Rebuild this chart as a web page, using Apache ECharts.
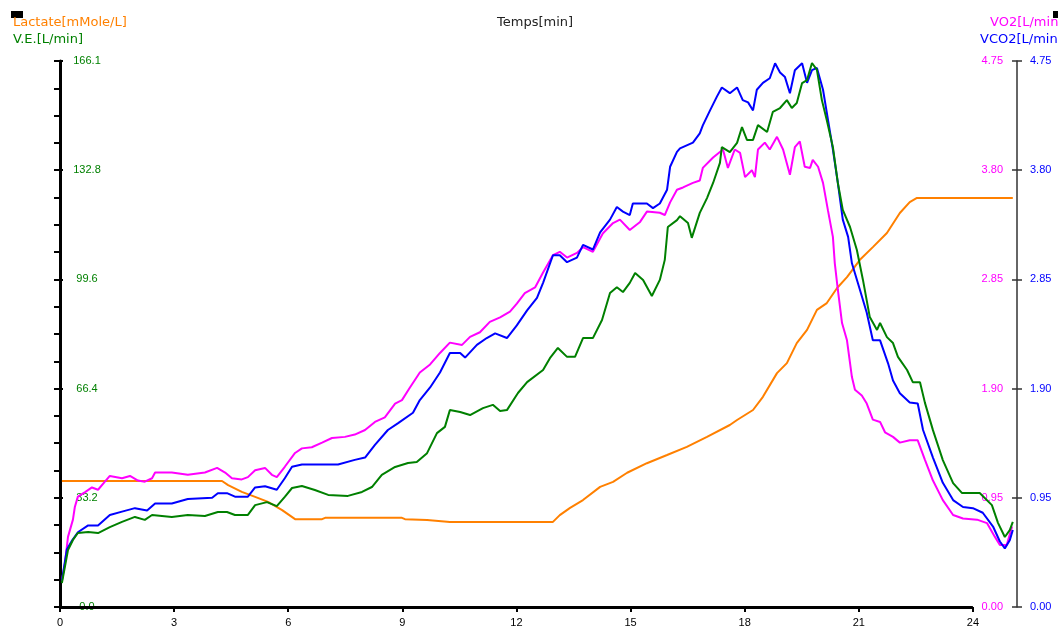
<!DOCTYPE html>
<html>
<head>
<meta charset="utf-8">
<script src="https://cdn.jsdelivr.net/npm/echarts@6/dist/echarts.min.js"></script>
<style>
  html, body { margin: 0; padding: 0; background: #fff; }
  #chart { width: 1058px; height: 632px; }
</style>
</head>
<body>
<div id="chart"></div>
<script>
// Time axis (minutes) and tick positions
const xTicks = [0, 3, 6, 9, 12, 15, 18, 21, 24];
const timeMax = 25.16;

// Scales: ventilation on the left, gas exchange on the right
const veMax = 166.1;
const veStep = 33.22;
const gasMax = 4.75;
const gasStep = 0.95;
const lactateMax = 12;

// Lactate [mMole/L] : [minute, value]
const lactate = [
  [0.05, 2.77], [4.26, 2.77], [4.42, 2.68], [4.78, 2.53], [5.13, 2.42], [5.47, 2.31],
  [5.84, 2.13], [6.18, 1.93], [6.89, 1.93], [6.97, 1.96], [8.99, 1.96], [9.07, 1.93],
  [9.65, 1.91], [10.25, 1.87], [12.96, 1.87], [13.14, 2.02], [13.41, 2.18], [13.75, 2.35],
  [14.20, 2.64], [14.54, 2.75], [14.91, 2.95], [15.43, 3.16], [15.96, 3.34], [16.48, 3.52],
  [17.01, 3.74], [17.61, 4.00], [17.80, 4.11], [18.22, 4.33], [18.48, 4.62], [18.85, 5.14],
  [19.11, 5.36], [19.37, 5.80], [19.64, 6.09], [19.90, 6.53], [20.16, 6.68], [20.43, 7.01],
  [20.69, 7.25], [21.03, 7.63], [21.37, 7.91], [21.74, 8.22], [22.08, 8.66], [22.34, 8.90],
  [22.53, 8.99], [25.05, 8.99]
];

// V.E. [L/min]
const ve = [
  [0.05, 7.3], [0.21, 17.3], [0.34, 20.4], [0.47, 22.5], [0.74, 22.8], [1.00, 22.5],
  [1.31, 24.3], [1.63, 25.9], [1.97, 27.4], [2.23, 26.5], [2.42, 28.0], [2.94, 27.4],
  [3.36, 28.0], [3.81, 27.7], [4.15, 28.9], [4.39, 28.9], [4.60, 28.0], [4.94, 28.0],
  [5.13, 31.0], [5.44, 31.9], [5.70, 30.7], [5.91, 33.5], [6.10, 36.2], [6.36, 36.8],
  [6.70, 35.6], [7.05, 34.1], [7.57, 33.8], [7.94, 35.0], [8.20, 36.5], [8.46, 40.2],
  [8.81, 42.6], [9.15, 43.8], [9.38, 44.1], [9.65, 46.8], [9.91, 52.9], [10.12, 54.8],
  [10.25, 59.9], [10.52, 59.3], [10.78, 58.4], [11.12, 60.5], [11.38, 61.5], [11.57, 59.6],
  [11.75, 59.9], [12.04, 65.1], [12.28, 68.4], [12.70, 72.1], [12.88, 75.7], [13.09, 78.8],
  [13.33, 76.1], [13.54, 76.1], [13.75, 81.8], [14.01, 81.8], [14.25, 87.3], [14.46, 95.5],
  [14.64, 97.3], [14.80, 95.8], [14.98, 98.6], [15.12, 101.6], [15.33, 99.5], [15.56, 94.6],
  [15.77, 99.5], [15.90, 105.6], [15.98, 115.6], [16.22, 117.7], [16.30, 118.9], [16.51, 116.8],
  [16.61, 112.3], [16.82, 119.9], [17.01, 124.4], [17.17, 129.0], [17.35, 135.1], [17.40, 139.9],
  [17.61, 138.4], [17.80, 141.2], [17.93, 146.0], [18.06, 142.1], [18.22, 142.1], [18.35, 146.6],
  [18.59, 144.5], [18.74, 150.6], [18.93, 151.8], [19.11, 154.2], [19.24, 151.8], [19.37, 153.3],
  [19.51, 159.4], [19.64, 160.3], [19.77, 165.5], [19.90, 163.4], [20.03, 154.2], [20.16, 148.1],
  [20.32, 139.9], [20.45, 129.0], [20.58, 120.8], [20.77, 115.6], [20.95, 108.6], [21.11, 99.5],
  [21.29, 88.2], [21.48, 84.3], [21.56, 86.4], [21.74, 82.1], [21.90, 80.3], [22.03, 76.1],
  [22.27, 72.1], [22.42, 68.4], [22.61, 68.4], [22.74, 62.1], [22.95, 53.8], [23.21, 44.7],
  [23.48, 37.7], [23.71, 34.7], [24.18, 34.7], [24.50, 31.0], [24.66, 25.6], [24.84, 21.3],
  [24.97, 23.4], [25.05, 25.9]
];

// VO2 [L/min]
const vo2 = [
  [0.05, 0.23], [0.13, 0.38], [0.21, 0.61], [0.34, 0.76], [0.39, 0.87], [0.47, 0.96],
  [0.66, 1.00], [0.84, 1.04], [1.00, 1.02], [1.18, 1.09], [1.31, 1.14], [1.63, 1.12],
  [1.84, 1.14], [2.05, 1.10], [2.23, 1.09], [2.42, 1.12], [2.50, 1.17], [2.94, 1.17],
  [3.36, 1.15], [3.81, 1.17], [4.13, 1.21], [4.34, 1.17], [4.52, 1.12], [4.78, 1.11],
  [4.94, 1.13], [5.13, 1.19], [5.39, 1.21], [5.57, 1.15], [5.70, 1.13], [5.91, 1.22],
  [6.18, 1.34], [6.36, 1.38], [6.62, 1.39], [6.89, 1.43], [7.15, 1.47], [7.49, 1.48],
  [7.75, 1.50], [8.02, 1.54], [8.28, 1.61], [8.54, 1.65], [8.81, 1.77], [8.99, 1.80],
  [9.20, 1.91], [9.46, 2.04], [9.73, 2.11], [9.99, 2.21], [10.25, 2.30], [10.57, 2.28],
  [10.78, 2.35], [11.04, 2.39], [11.30, 2.48], [11.57, 2.52], [11.83, 2.57], [12.01, 2.64],
  [12.22, 2.73], [12.49, 2.78], [12.70, 2.91], [12.96, 3.06], [13.14, 3.09], [13.33, 3.04],
  [13.59, 3.08], [13.75, 3.13], [14.01, 3.09], [14.27, 3.25], [14.54, 3.34], [14.72, 3.37],
  [14.98, 3.28], [15.25, 3.35], [15.43, 3.44], [15.77, 3.43], [15.90, 3.41], [16.04, 3.52],
  [16.22, 3.63], [16.38, 3.65], [16.64, 3.69], [16.82, 3.71], [16.90, 3.82], [17.17, 3.91],
  [17.43, 3.98], [17.56, 3.82], [17.74, 3.98], [17.88, 3.95], [18.01, 3.74], [18.19, 3.80],
  [18.27, 3.74], [18.35, 3.98], [18.53, 4.04], [18.66, 3.98], [18.85, 4.09], [19.01, 3.98],
  [19.19, 3.76], [19.32, 4.00], [19.45, 4.05], [19.58, 3.83], [19.72, 3.82], [19.79, 3.89],
  [19.93, 3.83], [20.06, 3.69], [20.19, 3.45], [20.32, 3.22], [20.37, 2.99], [20.45, 2.76],
  [20.56, 2.47], [20.69, 2.32], [20.82, 2.00], [20.90, 1.89], [21.08, 1.84], [21.21, 1.77],
  [21.37, 1.63], [21.56, 1.61], [21.69, 1.52], [21.90, 1.48], [22.08, 1.43], [22.34, 1.45],
  [22.55, 1.45], [22.74, 1.28], [22.95, 1.10], [23.21, 0.93], [23.48, 0.80], [23.74, 0.77],
  [24.11, 0.76], [24.37, 0.73], [24.58, 0.61], [24.71, 0.54], [24.89, 0.54], [25.03, 0.70]
];

// VCO2 [L/min]
const vco2 = [
  [0.05, 0.23], [0.18, 0.50], [0.32, 0.58], [0.47, 0.65], [0.74, 0.71], [1.00, 0.71],
  [1.31, 0.80], [1.63, 0.83], [1.97, 0.86], [2.29, 0.84], [2.50, 0.90], [2.94, 0.90],
  [3.36, 0.94], [4.00, 0.95], [4.15, 0.99], [4.39, 0.99], [4.60, 0.96], [4.94, 0.96],
  [5.13, 1.04], [5.39, 1.05], [5.70, 1.02], [5.91, 1.12], [6.10, 1.22], [6.36, 1.24],
  [6.89, 1.24], [7.31, 1.24], [7.75, 1.28], [8.02, 1.30], [8.28, 1.41], [8.62, 1.54],
  [8.89, 1.60], [9.28, 1.69], [9.46, 1.80], [9.73, 1.91], [9.99, 2.04], [10.25, 2.21],
  [10.52, 2.21], [10.65, 2.17], [10.96, 2.28], [11.22, 2.34], [11.44, 2.38], [11.75, 2.34],
  [12.01, 2.45], [12.28, 2.58], [12.54, 2.69], [12.70, 2.82], [12.96, 3.06], [13.14, 3.06],
  [13.33, 3.00], [13.59, 3.04], [13.75, 3.15], [14.01, 3.11], [14.20, 3.26], [14.46, 3.37],
  [14.64, 3.48], [14.80, 3.44], [14.98, 3.41], [15.06, 3.51], [15.43, 3.51], [15.59, 3.47],
  [15.77, 3.51], [15.96, 3.63], [16.04, 3.83], [16.22, 3.96], [16.30, 3.99], [16.64, 4.04],
  [16.82, 4.12], [16.90, 4.19], [17.09, 4.32], [17.27, 4.44], [17.40, 4.52], [17.61, 4.47],
  [17.80, 4.52], [17.95, 4.41], [18.09, 4.39], [18.22, 4.32], [18.32, 4.50], [18.48, 4.56],
  [18.66, 4.60], [18.80, 4.73], [18.93, 4.65], [19.06, 4.61], [19.19, 4.47], [19.32, 4.67],
  [19.51, 4.73], [19.64, 4.56], [19.77, 4.67], [19.90, 4.69], [20.06, 4.50], [20.19, 4.24],
  [20.32, 3.98], [20.45, 3.69], [20.58, 3.37], [20.72, 3.22], [20.82, 2.99], [21.03, 2.76],
  [21.21, 2.56], [21.37, 2.32], [21.56, 2.32], [21.77, 2.12], [21.90, 1.97], [22.08, 1.86],
  [22.34, 1.78], [22.55, 1.77], [22.69, 1.54], [22.95, 1.30], [23.21, 1.08], [23.48, 0.93],
  [23.74, 0.87], [24.00, 0.86], [24.26, 0.82], [24.53, 0.70], [24.71, 0.57], [24.84, 0.51],
  [24.97, 0.58], [25.05, 0.67]
];

const TICK_FONT = 'Liberation Sans';
const TITLE_FONT = '13px "DejaVu Sans", Verdana, sans-serif';
const GREEN = '#008000';
const ORANGE = '#ff8000';
const MAGENTA = '#ff00ff';
const BLUE = '#0000ff';

// Left axis labels show one decimal, truncated
const trunc1 = v => (Math.floor(v * 10 + 1e-6) / 10).toFixed(1);

const chart = echarts.init(document.getElementById('chart'), null, { renderer: 'canvas' });

chart.setOption({
  backgroundColor: '#fff',
  animation: false,
  grid: { left: 60, right: 41, top: 61, bottom: 25, containLabel: false },
  xAxis: {
    type: 'value', min: 0, max: timeMax, z: 0,
    axisLine: { show: false },
    axisTick: { show: true, customValues: xTicks, length: 5, lineStyle: { color: '#000', width: 2 } },
    axisLabel: { customValues: xTicks, color: '#000', fontSize: 11, fontFamily: TICK_FONT, margin: 10 },
    splitLine: { show: false }
  },
  yAxis: [
    { // V.E.
      type: 'value', position: 'left', min: 0, max: veMax, interval: veStep, z: 1,
      axisLine: { show: true, lineStyle: { color: '#000', width: 3 } },
      axisTick: { show: true, inside: false, length: 6, lineStyle: { color: '#000', width: 2 } },
      minorTick: { show: true, splitNumber: 4, length: 6, lineStyle: { color: '#000', width: 2 } },
      splitLine: { show: false },
      axisLabel: {
        inside: true, margin: 27, align: 'center', color: GREEN, fontSize: 11, fontFamily: TICK_FONT,
        backgroundColor: '#fff', padding: [0, 3], formatter: trunc1
      }
    },
    { // VO2
      type: 'value', position: 'right', min: 0, max: gasMax, interval: gasStep, z: 3,
      axisLine: { show: true, lineStyle: { color: '#333', width: 1.5 } },
      axisTick: { show: true, inside: false, length: 5, lineStyle: { color: '#333', width: 1.5 } },
      splitLine: { show: false },
      axisLabel: {
        inside: true, margin: 12, color: MAGENTA, fontSize: 11, fontFamily: TICK_FONT,
        backgroundColor: '#fff', padding: [0, 2], formatter: v => v.toFixed(2)
      }
    },
    { // VCO2
      type: 'value', position: 'right', min: 0, max: gasMax, interval: gasStep, z: 3,
      axisLine: { show: false },
      axisTick: { show: true, inside: true, length: 5, lineStyle: { color: '#333', width: 1.5 } },
      splitLine: { show: false },
      axisLabel: { margin: 13, color: BLUE, fontSize: 11, fontFamily: TICK_FONT, formatter: v => v.toFixed(2) }
    },
    { // Lactate (no visible scale)
      type: 'value', min: 0, max: lactateMax, show: false
    },
    { // inner half of the left major ticks
      type: 'value', position: 'left', min: 0, max: veMax, interval: veStep, z: 1,
      axisLine: { show: false },
      axisTick: { show: true, inside: true, length: 3, lineStyle: { color: '#000', width: 2 } },
      axisLabel: { show: false },
      splitLine: { show: false }
    }
  ],
  series: [
    { // bottom time axis line, from first to last labelled minute
      type: 'line', yAxisIndex: 0, z: 0, data: [], silent: true,
      markLine: {
        silent: true, symbol: 'none', animation: false,
        label: { show: false },
        lineStyle: { color: '#000', width: 3, type: 'solid' },
        data: [[{ coord: [xTicks[0], 0] }, { coord: [xTicks[xTicks.length - 1], 0] }]]
      }
    },
    {
      name: 'Lactate[mMole/L]', type: 'line', yAxisIndex: 3, data: lactate,
      showSymbol: false, lineStyle: { color: ORANGE, width: 2 }, itemStyle: { color: ORANGE }
    },
    {
      name: 'VO2[L/min]', type: 'line', yAxisIndex: 1, data: vo2,
      showSymbol: false, lineStyle: { color: MAGENTA, width: 2 }, itemStyle: { color: MAGENTA }
    },
    {
      name: 'VCO2[L/min]', type: 'line', yAxisIndex: 2, data: vco2,
      showSymbol: false, lineStyle: { color: BLUE, width: 2 }, itemStyle: { color: BLUE }
    },
    {
      name: 'V.E.[L/min]', type: 'line', yAxisIndex: 0, data: ve,
      showSymbol: false, lineStyle: { color: GREEN, width: 2 }, itemStyle: { color: GREEN }
    }
  ],
  graphic: [
    { type: 'rect', left: 11, top: 11, shape: { width: 12, height: 7 }, style: { fill: '#000' } },
    { type: 'rect', left: 1053, top: 11, shape: { width: 6, height: 7 }, style: { fill: '#000' } },
    { type: 'text', left: 13, top: 16, style: { text: 'Lactate[mMole/L]', fill: ORANGE, font: TITLE_FONT } },
    { type: 'text', left: 13, top: 33, style: { text: 'V.E.[L/min]', fill: GREEN, font: TITLE_FONT } },
    { type: 'text', left: 497, top: 16, style: { text: 'Temps[min]', fill: '#222', font: TITLE_FONT } },
    { type: 'text', left: 990, top: 16, style: { text: 'VO2[L/min]', fill: MAGENTA, font: TITLE_FONT } },
    { type: 'text', left: 980, top: 33, style: { text: 'VCO2[L/min]', fill: BLUE, font: TITLE_FONT } }
  ]
});
</script>
</body>
</html>
